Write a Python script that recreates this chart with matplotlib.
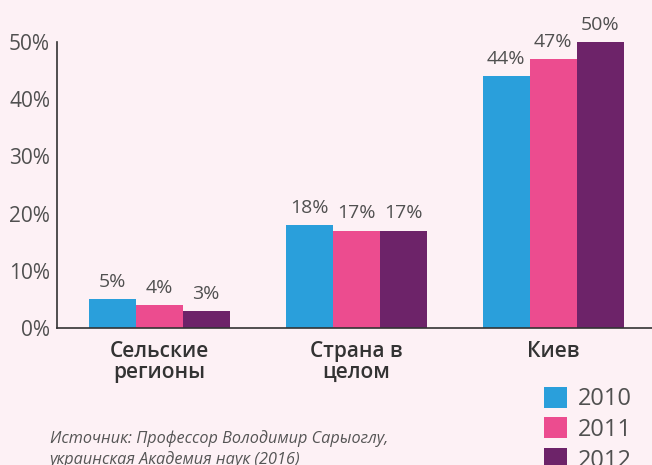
import matplotlib
matplotlib.use("Agg")
from matplotlib import pyplot as plt
from matplotlib.patches import Patch
import numpy as np

# data
categories = ["Сельские\nрегионы", "Страна в\nцелом", "Киев"]
years = ["2010", "2011", "2012"]
values_2010 = [5, 18, 44]
values_2011 = [4, 17, 47]
values_2012 = [3, 17, 50]
yticks = [0, 10, 20, 30, 40, 50]
source = "Источник: Профессор Володимир Сарыоглу,\nукраинская Академия наук (2016)"

COLORS = ["#2a9fdb", "#ec4c8f", "#6d2369"]
BG = "#fdf1f5"
TEXT = "#505050"

plt.rcParams['font.family'] = ['Open Sans', 'DejaVu Sans']

fig = plt.figure(figsize=(6.52, 4.65), dpi=100, facecolor=BG)
ax = fig.add_axes([57 / 652, (465 - 328) / 465, 1 - 57 / 652, (328 - 42) / 465])
ax.set_facecolor(BG)

x = np.arange(len(categories))
width = 47 / 197
series = [values_2010, values_2011, values_2012]
for i, vals in enumerate(series):
    bars = ax.bar(x + (i - 1) * width, vals, width, color=COLORS[i], label=years[i])
    ax.bar_label(bars, labels=[f"{v}%" for v in vals], padding=6, fontsize=14,
                 color=TEXT, clip_on=False)

ax.set_xlim(-102 / 197, (652 - 159) / 197)
ax.set_ylim(0, 50)
ax.set_yticks(yticks)
ax.set_yticklabels([f"{t}%" for t in yticks], fontsize=15, color=TEXT)
ax.set_xticks(x)
ax.set_xticklabels(categories, fontsize=15, color="#333333", linespacing=1.05,
                   fontweight="semibold")
ax.tick_params(axis="both", length=0)
ax.tick_params(axis="y", pad=5)
ax.tick_params(axis="x", pad=9)

for side in ["top", "right"]:
    ax.spines[side].set_visible(False)
for side in ["left", "bottom"]:
    ax.spines[side].set_color("#333333")
    ax.spines[side].set_linewidth(1.2)

handles = [Patch(facecolor=c) for c in COLORS]
fig.legend(handles, years, loc="upper left", bbox_to_anchor=(532 / 652, 1 - 375 / 465),
           frameon=False, fontsize=17, handlelength=1.0, handleheight=1.0,
           handletextpad=0.45, labelspacing=0.25, borderpad=0, labelcolor=TEXT)

fig.text(50 / 652, 1 - 430 / 465, source, fontsize=11.7, style="italic", color="#555555",
         va="top", ha="left", linespacing=1.3)

fig.savefig("out.png", dpi=100, facecolor=BG)
